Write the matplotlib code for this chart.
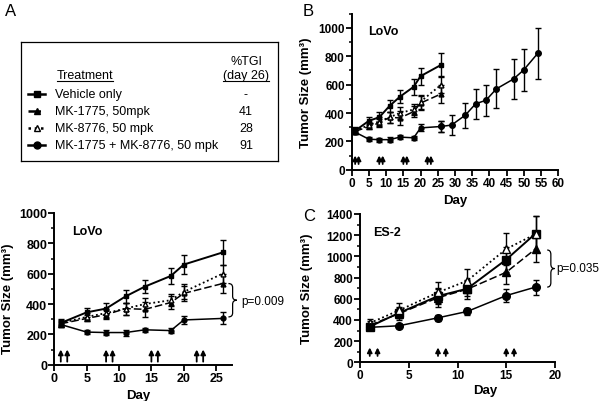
import numpy as np
import matplotlib
matplotlib.use('Agg')
import matplotlib.pyplot as plt
from matplotlib.path import Path
from matplotlib.patches import PathPatch
from matplotlib.ticker import MultipleLocator

plt.rcParams['font.family'] = ['Liberation Sans', 'DejaVu Sans']

# LoVo (panel A and B share the first 26 days)
lovo_days = [1, 5, 8, 11, 14, 18, 20, 26]
lovo_vehicle = [275, 345, 370, 450, 515, 585, 660, 740]
lovo_vehicle_err = [25, 30, 35, 45, 45, 55, 60, 85]
lovo_mk1775 = [270, 305, 330, 370, 365, 410, 470, 535]
lovo_mk1775_err = [20, 20, 30, 40, 50, 40, 50, 65]
lovo_mk8776 = [275, 315, 340, 370, 400, 425, 480, 600]
lovo_mk8776_err = [20, 25, 30, 40, 40, 40, 50, 60]
lovo_combo = [265, 215, 212, 212, 230, 225, 295, 305]
lovo_combo_err = [15, 15, 15, 20, 15, 15, 25, 40]

# LoVo combo regrowth after stopping treatment (panel B)
regrow_days = [29, 33, 36, 39, 42, 47, 50, 54]
regrow_combo = [315, 385, 465, 490, 570, 640, 705, 820]
regrow_combo_err = [70, 88, 105, 110, 138, 140, 150, 180]

lovo_dosing = [1, 2, 8, 9, 15, 16, 22, 23]

# ES-2 (panel C)
es2_days = [1, 4, 8, 11, 15, 18]
es2_vehicle = [337, 466, 625, 695, 970, 1215]
es2_vehicle_err = [30, 50, 70, 70, 120, 170]
es2_mk1775 = [350, 460, 610, 690, 850, 1070]
es2_mk1775_err = [40, 60, 90, 90, 110, 120]
es2_mk8776 = [370, 490, 660, 770, 1070, 1210]
es2_mk8776_err = [40, 70, 100, 110, 150, 170]
es2_combo = [330, 345, 420, 480, 630, 710]
es2_combo_err = [20, 15, 30, 35, 65, 70]
es2_dosing = [1, 1.8, 8, 8.8, 15, 15.8]

treatments = ['Vehicle only', 'MK-1775, 50mpk', 'MK-8776, 50 mpk',
              'MK-1775 + MK-8776, 50 mpk']
tgi = ['-', '41', '28', '91']

styles = [
    dict(marker='s', ls='-', mfc='k', lw=1.4),
    dict(marker='^', ls=(0, (5, 2)), mfc='k', lw=1.1),
    dict(marker='^', ls=(0, (1, 1.5)), mfc='white', lw=1.3),
    dict(marker='o', ls='-', mfc='k', lw=1.1),
]


def style_axis(ax, xmax, ymax, xmaj, ymaj, yminor, fs, lfs):
    for s in ['top', 'right']:
        ax.spines[s].set_visible(False)
    for s in ['left', 'bottom']:
        ax.spines[s].set_linewidth(1.4)
    ax.set_xlim(0, xmax)
    ax.set_ylim(0, ymax)
    ax.xaxis.set_major_locator(MultipleLocator(xmaj))
    ax.yaxis.set_major_locator(MultipleLocator(ymaj))
    ax.yaxis.set_minor_locator(MultipleLocator(yminor))
    ax.tick_params(which='major', length=4, width=1.3, labelsize=fs, pad=1)
    ax.tick_params(which='minor', length=2.5, width=1.1)
    for lab in ax.get_xticklabels() + ax.get_yticklabels():
        lab.set_fontweight('bold')
    ax.set_ylabel('Tumor Size (mm³)', fontsize=lfs, fontweight='bold')
    ax.set_xlabel('Day', fontsize=9.5, fontweight='bold')


def plot_series(ax, days, vals, errs, st, ms):
    ax.errorbar(days, vals, yerr=errs, color='k', marker=st['marker'],
                ls=st['ls'], lw=st['lw'], mfc=st['mfc'], mec='k', ms=ms,
                capsize=2.5, elinewidth=1.0, capthick=1.0, clip_on=False,
                zorder=3)


def arrows(ax, days, y0, y1):
    for d in days:
        ax.annotate('', xy=(d, y1), xytext=(d, y0),
                    arrowprops=dict(arrowstyle='-|>', lw=1.3, color='k',
                                    mutation_scale=7, shrinkA=0, shrinkB=0))


def brace(ax, x, y0, y1, w):
    ym = (y0 + y1) / 2
    r = (y1 - y0) * 0.12
    xm = x + w / 2
    verts = [(x, y1), (xm, y1), (xm, y1 - r), (xm, ym + r), (xm, ym),
             (x + w, ym), (xm, ym), (xm, ym - r), (xm, y0 + r), (xm, y0),
             (x, y0)]
    codes = [Path.MOVETO, Path.CURVE3, Path.CURVE3, Path.LINETO,
             Path.CURVE3, Path.CURVE3, Path.CURVE3, Path.CURVE3,
             Path.LINETO, Path.CURVE3, Path.CURVE3]
    ax.add_patch(PathPatch(Path(verts, codes), fill=False, lw=0.9,
                           color='k', clip_on=False))


fig = plt.figure(figsize=(6, 4.02), dpi=100)

# ---- legend box (panel A top)
axl = fig.add_axes([20.7 / 600, 1 - 161.7 / 402, 257 / 600, 118.4 / 402])
axl.set_xlim(20.7, 277.7)
axl.set_ylim(161.7, 43.3)
axl.set_xticks([])
axl.set_yticks([])
for s in axl.spines.values():
    s.set_linewidth(0.9)
lfs = 9
axl.text(57, 76, 'Treatment', fontsize=lfs, va='center', ha='left')
axl.plot([57, 113], [82, 82], color='k', lw=0.8)
axl.text(246, 62, '%TGI', fontsize=lfs, va='center', ha='center')
axl.text(246, 76, '(day 26)', fontsize=lfs, va='center', ha='center')
axl.plot([223, 268.5], [82, 82], color='k', lw=0.8)
for i, (name, val) in enumerate(zip(treatments, tgi)):
    yy = 95 + i * 17
    st = styles[i]
    axl.plot([28, 45], [yy, yy], color='k', ls=st['ls'], lw=1.8)
    axl.plot([36.5], [yy], marker=st['marker'], mfc=st['mfc'], mec='k',
             ms=5, color='k')
    axl.text(55, yy, name, fontsize=lfs, va='center', ha='left')
    axl.text(246, yy, val, fontsize=lfs, va='center', ha='center')

# ---- panel A graph
axA = fig.add_axes([54.3 / 600, 1 - 365.7 / 402, 178 / 600, 151.7 / 402])
style_axis(axA, 27.5, 1000, 5, 200, 100, 9, 9.5)
series_a = [(lovo_vehicle, lovo_vehicle_err), (lovo_mk1775, lovo_mk1775_err),
            (lovo_mk8776, lovo_mk8776_err), (lovo_combo, lovo_combo_err)]
for (v, e), st in zip(series_a, styles):
    plot_series(axA, lovo_days, v, e, st, 3.5)
arrows(axA, lovo_dosing, 20, 100)
axA.text(0.1, 0.88, 'LoVo', transform=axA.transAxes, fontsize=9,
         fontweight='bold', va='center')
brace(axA, 26.9, lovo_combo[-1] + 10, lovo_mk1775[-1], 1.3)
axA.text(28.9, (lovo_combo[-1] + lovo_mk1775[-1]) / 2, 'p=0.009',
         fontsize=8.5, va='center', ha='left')
axA.xaxis.set_label_coords(0.47, -0.16)
axA.yaxis.set_label_coords(-0.228, 0.44)

# ---- panel B graph
axB = fig.add_axes([351.7 / 600, 1 - 170.7 / 402, 206.6 / 600, 155.9 / 402])
style_axis(axB, 60, 1100, 5, 200, 100, 8.5, 9.5)
for (v, e), st in zip(series_a, styles):
    plot_series(axB, lovo_days, v, e, st, 3.5)
plot_series(axB, [lovo_days[-1]] + regrow_days,
            [lovo_combo[-1]] + regrow_combo,
            [lovo_combo_err[-1]] + regrow_combo_err, styles[3], 4)
arrows(axB, lovo_dosing, 40, 100)
axB.text(0.08, 0.89, 'LoVo', transform=axB.transAxes, fontsize=9,
         fontweight='bold', va='center')
axB.xaxis.set_label_coords(0.5, -0.156)
axB.yaxis.set_label_coords(-0.19, 0.5)

# ---- panel C graph
axC = fig.add_axes([360 / 600, 1 - 363.3 / 402, 195 / 600, 148.3 / 402])
style_axis(axC, 20, 1400, 5, 200, 100, 8.5, 9.5)
series_c = [(es2_vehicle, es2_vehicle_err), (es2_mk1775, es2_mk1775_err),
            (es2_mk8776, es2_mk8776_err), (es2_combo, es2_combo_err)]
for (v, e), st in zip(series_c, styles):
    plot_series(axC, es2_days, v, e, st, 5.5)
arrows(axC, es2_dosing, 60, 140)
axC.text(0.067, 0.88, 'ES-2', transform=axC.transAxes, fontsize=9,
         fontweight='bold', va='center')
brace(axC, 19.2, es2_combo[-1], es2_mk1775[-1] - 10, 0.75)
axC.text(20.1, (es2_combo[-1] + es2_mk1775[-1]) / 2, 'p=0.035',
         fontsize=8.5, va='center', ha='left')
axC.xaxis.set_label_coords(0.64, -0.146)
axC.yaxis.set_label_coords(-0.241, 0.5)

# panel letters
fig.text(5 / 600, 1 - 11 / 402, 'A', fontsize=12, va='center', ha='left')
fig.text(303 / 600, 1 - 11 / 402, 'B', fontsize=12, va='center', ha='left')
fig.text(303 / 600, 1 - 217 / 402, 'C', fontsize=12, va='center', ha='left')

fig.savefig('out.png', dpi=100)
